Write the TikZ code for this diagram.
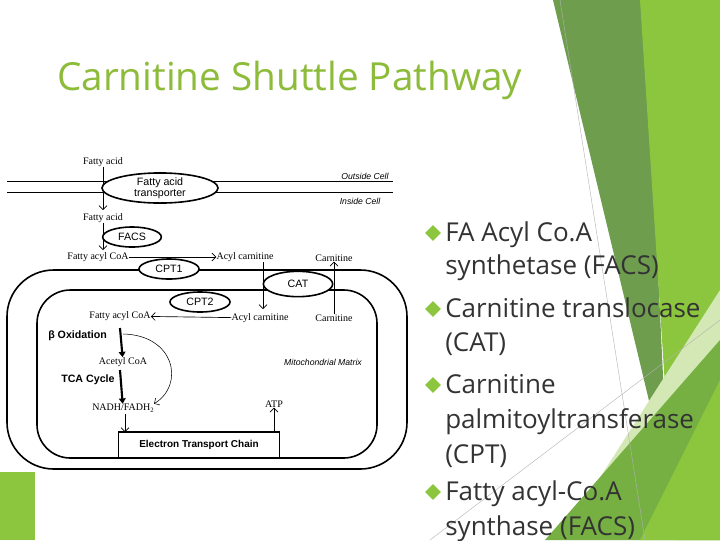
\documentclass[tikz,border=0pt]{standalone}
\usepackage{fontspec}
\setmainfont{Liberation Serif}
\setsansfont{Open Sans}
\newfontfamily\lsans{Liberation Sans}
\usetikzlibrary{arrows.meta,shapes.geometric}
\definecolor{tgreen}{HTML}{8DBB3A}
\definecolor{dgreen}{HTML}{6E9D4E}
\definecolor{bgreen}{HTML}{8CC63E}
\definecolor{lgreen}{HTML}{D3E8B4}
\definecolor{mgreen}{HTML}{76B043}
\definecolor{btext}{HTML}{333333}
\tikzset{
 lab/.style={font=\fontsize{7.5}{8}\selectfont, inner sep=0pt},
 ilab/.style={font=\lsans\itshape\fontsize{6.5}{7}\selectfont, inner sep=0pt},
 enz/.style={ellipse, draw, line width=1.2pt, font=\lsans\fontsize{8}{8}\selectfont, inner sep=0pt, fill=white},
 arr/.style={-{Straight Barb[length=3pt]}, line width=0.5pt},
 tarr/.style={-{Triangle[length=4pt,width=5pt]}, line width=1.6pt},
 btxt/.style={anchor=base west, text=btext, font=\sffamily\fontsize{19.5}{24}\selectfont, inner sep=0pt},
 bul/.style={diamond, fill=bgreen, minimum size=12pt, inner sep=0pt},
}
\begin{document}
\begin{tikzpicture}[x=0.75pt,y=-0.75pt]
\useasboundingbox (0,0) rectangle (720,540);
\fill[white] (0,0) rectangle (720,540);
% background
\fill[dgreen] (553,0) -- (645,0) -- (668,480) -- cycle;
\fill[bgreen] (640,0) -- (720,0) -- (720,540) -- (675,540) -- cycle;
\fill[lgreen] (560,540) -- (720,290) -- (720,540) -- cycle;
\fill[mgreen] (545,540) -- (720,340) -- (720,540) -- cycle;
\fill[bgreen] (640,540) -- (720,380) -- (720,540) -- cycle;
\draw[gray!60, line width=0.3pt] (560,0) -- (645,540);
\draw[gray!60, line width=0.3pt] (430,540) -- (720,320);
\fill[bgreen] (0,472) rectangle (35,540);
% title
\node[anchor=base west, text=tgreen, font=\sffamily\fontsize{29}{32}\selectfont, inner sep=0pt] (title) at (57,90) {Carnitine Shuttle Pathway};
% bullets
\node[bul] (b1) at (433,233) {};
\node[btxt] (t1) at (445,241) {FA Acyl Co.A};
\node[btxt] (t1b) at (445,274) {synthetase (FACS)};
\node[bul] (b2) at (433,309) {};
\node[btxt] (t2) at (445,317) {Carnitine translocase};
\node[btxt] (t2b) at (445,351) {(CAT)};
\node[bul] (b3) at (433,385) {};
\node[btxt] (t3) at (445,393) {Carnitine};
\node[btxt] (t3b) at (445,428) {palmitoyltransferase};
\node[btxt] (t3c) at (445,463) {(CPT)};
\node[bul] (b4) at (433,492) {};
\node[btxt] (t4) at (445,500) {Fatty acyl-Co.A};
\node[btxt] (t4b) at (445,535) {synthase (FACS)};
% diagram
\draw[line width=0.6pt] (7,181) -- (393,181);
\draw[line width=0.6pt] (7,192) -- (393,192);
\draw[line width=1.2pt, rounded corners=35pt] (7,270) rectangle (407,469);
\draw[line width=1.2pt, rounded corners=25pt] (37,290) rectangle (377,458);
\node[lab] (fa1) at (103,162) {Fatty acid};
\node[lab] (fa2) at (103,218) {Fatty acid};
\coordinate (fa1e) at (103,210);
\draw[arr] (fa1) -- (fa1e);
\node[enz, minimum width=87pt, minimum height=22pt, align=center, font=\lsans\fontsize{8}{8.5}\selectfont] (fat) at (160,188) {Fatty acid\\transporter};
\node[ilab] (out) at (365,176) {Outside Cell};
\node[ilab] (in) at (360,201) {Inside Cell};
\node[lab] (fac) at (98,257) {Fatty acyl CoA};
\coordinate (face) at (103,250);
\draw[arr] (fa2) -- (face);
\node[enz, minimum width=44pt, minimum height=15pt] (facs) at (132,237) {FACS};
\node[lab] (ac1) at (245,257) {Acyl carnitine};
\node[lab] (car1) at (334,258) {Carnitine};
\draw[arr] (fac) -- (ac1);
\node[enz, minimum width=45pt, minimum height=15pt] (cpt1) at (169,269) {CPT1};
\node[enz, minimum width=52pt, minimum height=19pt] (cat) at (298,284) {CAT};
\node[enz, minimum width=45pt, minimum height=15pt] (cpt2) at (200,302) {CPT2};
\node[lab] (fac2) at (120,316) {Fatty acyl CoA};
\node[lab] (ac2) at (260,318) {Acyl carnitine};
\node[lab] (car2) at (334,318) {Carnitine};
\coordinate (acd) at (263,309);
\draw[arr] (263,262) -- (acd);
\draw[arr] (car2) -- (car1);
\draw[arr] (ac2) -- (fac2);
\node[lab, font=\lsans\bfseries\fontsize{8}{8}\selectfont, anchor=west] (box) at (48,336) {β Oxidation};
\node[lab] (acc) at (123,362) {Acetyl CoA};
\node[lab, font=\lsans\bfseries\fontsize{8}{8}\selectfont, anchor=west] (tca) at (61,380) {TCA Cycle};
\node[lab] (nad) at (123,408) {NADH/FADH\raisebox{-0.3ex}{\fontsize{5}{5}\selectfont 2}};
\coordinate (bs) at (120,328);
\coordinate (ts) at (120,370);
\draw[tarr] (bs) -- (acc);
\draw[tarr] (ts) -- (nad);
\draw[arr, line width=0.4pt] (123,334) .. controls (175,335) and (185,385) .. (nad.north east);
\node[ilab] (mm) at (323,362) {Mitochondrial Matrix};
\node[draw, line width=1.2pt, minimum width=121pt, minimum height=19.5pt, font=\lsans\bfseries\fontsize{7.5}{8}\selectfont, fill=white, inner sep=0pt] (etc) at (199,445) {Electron Transport Chain};
\node[lab] (atp) at (274,404) {ATP};
\coordinate (nadb) at (125,432);
\draw[arr] (125,414) -- (nadb);
\draw[arr] (etc.north -| atp) -- (atp);
\end{tikzpicture}
\end{document}
